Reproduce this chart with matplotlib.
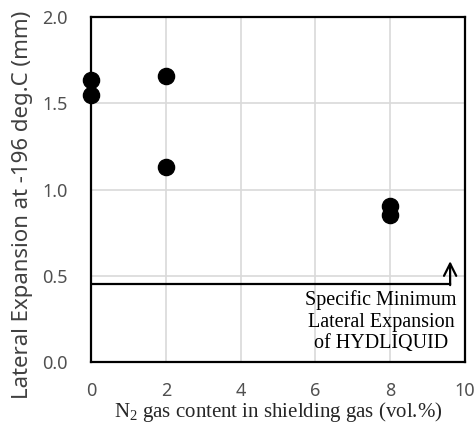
import matplotlib
matplotlib.use('Agg')
import matplotlib.pyplot as plt

plt.rcParams['mathtext.fontset'] = 'custom'
plt.rcParams['mathtext.rm'] = 'Liberation Serif'
plt.rcParams['mathtext.it'] = 'Liberation Serif:italic'

n2_content = [0, 0, 2, 2, 8, 8]
lateral_exp = [1.635, 1.55, 1.66, 1.13, 0.905, 0.855]

spec_min = 0.45
arrow_x = 9.6
arrow_top = 0.585
note = 'Specific Minimum\nLateral Expansion\nof HYDLIQUID'

xticks = [0, 2, 4, 6, 8, 10]
yticks = [0.0, 0.5, 1.0, 1.5, 2.0]

sans = ['Noto Sans', 'DejaVu Sans']

fig = plt.figure(figsize=(4.77, 4.25), dpi=100)
ax = fig.add_axes([0.191, 0.148, 0.784, 0.812])

ax.grid(True, color='#d9d9d9', linewidth=1.2)
ax.set_axisbelow(True)

ax.scatter(n2_content, lateral_exp, s=135, color='black', zorder=3, clip_on=False)

# specific minimum line with arrow
ax.plot([0, arrow_x], [spec_min, spec_min], color='black', linewidth=1.6, zorder=2)
ax.annotate('', xy=(arrow_x, arrow_top), xytext=(arrow_x, spec_min - 0.004),
            arrowprops=dict(arrowstyle='->', color='black', lw=1.6,
                            mutation_scale=22, shrinkA=0, shrinkB=0))
ax.text(7.75, 0.235, note, ha='center', va='center', fontsize=14.5,
        family='Liberation Serif', linespacing=1.2)

ax.set_xlim(0, 10)
ax.set_ylim(0, 2.0)
ax.set_xticks(xticks)
ax.set_yticks(yticks)
ax.set_yticklabels([f'{v:.1f}' for v in yticks])
ax.tick_params(length=0, labelsize=13, labelcolor='#505050')
ax.tick_params(axis='y', pad=17)
ax.tick_params(axis='x', pad=14)
for lab in ax.get_xticklabels() + ax.get_yticklabels():
    lab.set_family(sans)

for s in ax.spines.values():
    s.set_linewidth(1.6)
    s.set_color('black')

ax.set_ylabel('Lateral Expansion at -196 deg.C (mm)', fontsize=16, color='#404040',
              family=sans)
ax.yaxis.set_label_coords(-0.155, 0.455)
ax.set_xlabel(r'N$_2$ gas content in shielding gas (vol.%)', fontsize=15,
              family='Liberation Serif', color='#262626', labelpad=0)

fig.savefig('out.png', dpi=100)
